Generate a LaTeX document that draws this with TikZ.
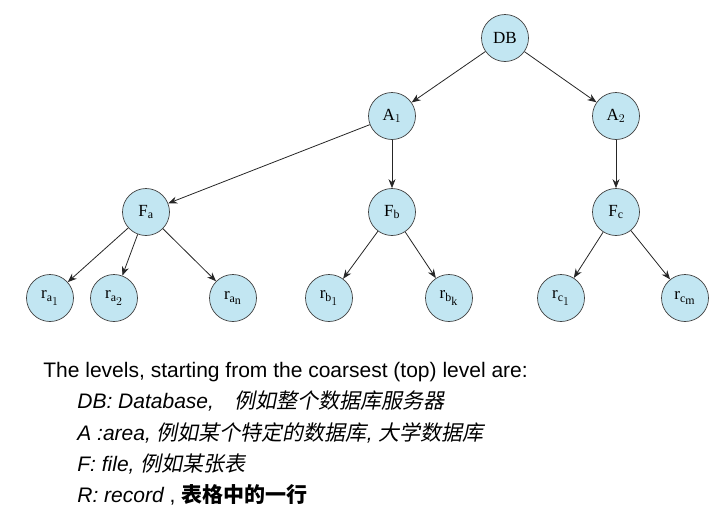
\documentclass[tikz,border=0pt]{standalone}
\usepackage{fontspec}
\setmainfont{Liberation Serif}
\setsansfont{Liberation Sans}
\newfontfamily\cjk{Noto Sans CJK SC}
\newfontfamily\cjkit[FakeSlant=0.2]{Noto Sans CJK SC}
\usepackage{tikz}
\usetikzlibrary{arrows.meta,positioning}
\definecolor{nodeblue}{RGB}{194,230,242}

\begin{document}
\begin{tikzpicture}
[x=1pt, y=-1pt, ->,>={Stealth[length=9pt,width=7pt]}, line width=0.8pt, draw=black!85,
every node/.style={font=\fontsize{17}{20}\selectfont},
rec/.style={circle, draw=black!75, fill=nodeblue, minimum size=47pt, inner sep=0pt, line width=0.7pt},
line/.style={anchor=base west, inner sep=0pt, font=\sffamily\fontsize{21}{25}\selectfont}
]
  \useasboundingbox (0,0) rectangle (715,509);

  \node[rec]		(DB)   at (505,38)		{DB};
  \node[rec]		(A1)   at (392,116)	{A$_1$};
  \node[rec]		(A2)   at (616,116)	{A$_2$};
  \node[rec]		(Fa)   at (146,212)	{F$_\mathrm{a}$};
  \node[rec]		(Fb)   at (392,212)	{F$_\mathrm{b}$};
  \node[rec]		(Fc)   at (616,212)	{F$_\mathrm{c}$};
  \node[rec]		(ra1)  at (50,298)		{r$_{\mathrm{a}_{\scriptstyle 1}}$};
  \node[rec]		(ra2)  at (114,298)	{r$_{\mathrm{a}_{\scriptstyle 2}}$};
  \node[rec]		(ran)  at (233,298)	{r$_{\mathrm{a}_{\scriptstyle\mathrm{n}}}$};
  \node[rec]		(rb1)  at (329,298)	{r$_{\mathrm{b}_{\scriptstyle 1}}$};
  \node[rec]		(rbk)  at (449,298)	{r$_{\mathrm{b}_{\scriptstyle\mathrm{k}}}$};
  \node[rec]		(rc1)  at (561,298)	{r$_{\mathrm{c}_{\scriptstyle 1}}$};
  \node[rec]		(rcm)  at (685,298)	{r$_{\mathrm{c}_{\scriptstyle\mathrm{m}}}$};

  \path
  	(DB) edge (A1)
  	(DB) edge (A2)
  	(A1) edge (Fa)
  	(A1) edge (Fb)
  	(A2) edge (Fc)
  	(Fa) edge (ra1)
  	(Fa) edge (ra2)
  	(Fa) edge (ran)
  	(Fb) edge (rb1)
  	(Fb) edge (rbk)
  	(Fc) edge (rc1)
  	(Fc) edge (rcm)
    ;

  % the legend under the tree
  \node[line] (title) at (43,377) {The levels, starting from the coarsest (top) level are:};
  \node[line] (lDB)   at (77,408) {\itshape DB: Database,\quad{\cjkit 例如整个数据库服务器}};
  \node[line] (lA)    at (77,440) {\itshape A :area, {\cjkit 例如某个特定的数据库}, {\cjkit 大学数据库}};
  \node[line] (lF)    at (77,471) {\itshape F: file, {\cjkit 例如某张表}};
  \node[line] (lR)    at (77,502) {\itshape R: record\upshape\ ,\ {\cjk\bfseries 表格中的一行}};
\end{tikzpicture}
\end{document}
